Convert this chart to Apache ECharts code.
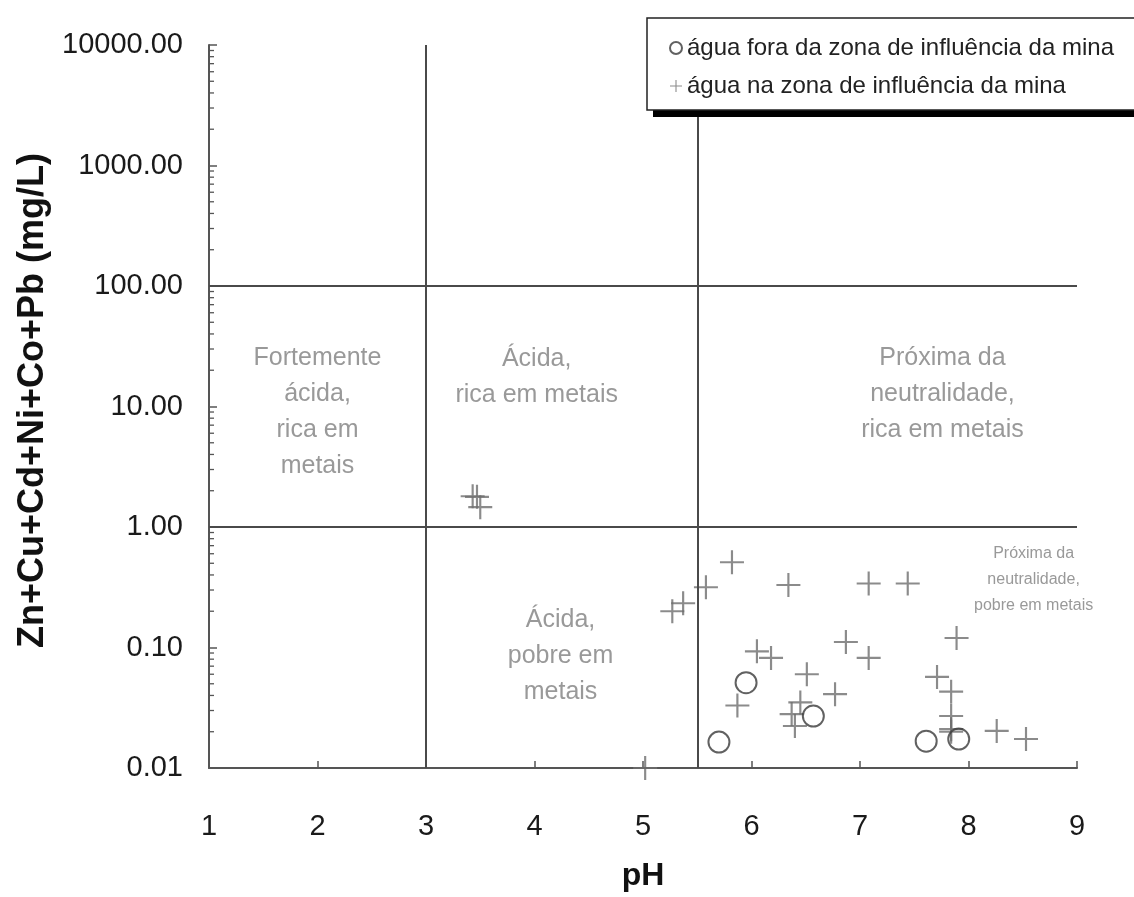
<!DOCTYPE html>
<html>
<head>
<meta charset="utf-8">
<script src="https://cdn.jsdelivr.net/npm/echarts@6/dist/echarts.min.js"></script>
<style>
  html, body { margin: 0; padding: 0; background: #fff; }
  #chart { width: 1134px; height: 897px; }
</style>
</head>
<body>
<div id="chart"></div>
<script>
// Water outside the mine's zone of influence: pH and Zn+Cu+Cd+Ni+Co+Pb (mg/L)
const phOutside = [5.95, 5.70, 6.57, 7.61, 7.91];
const metalsOutside = [0.051, 0.0164, 0.027, 0.0167, 0.0174];

// Water inside the mine's zone of influence
const phInside = [3.43, 3.47, 3.50, 5.02, 5.27, 5.37, 5.58, 5.82, 6.34, 7.08, 7.44,
                  6.05, 6.18, 5.87, 6.51, 6.77, 6.87, 7.08, 6.45, 6.37, 6.40,
                  7.89, 7.71, 7.84, 7.84, 7.84, 7.84, 8.26, 8.53];
const metalsInside = [1.80, 1.78, 1.46, 0.010, 0.20, 0.233, 0.316, 0.51, 0.33, 0.34, 0.34,
                      0.093, 0.082, 0.033, 0.060, 0.041, 0.111, 0.082, 0.035, 0.028, 0.0223,
                      0.12, 0.057, 0.043, 0.027, 0.021, 0.020, 0.0203, 0.0174];

// Field boundaries
const phBoundaries = [3, 5.5];
const metalBoundaries = [1, 100];

// Field names, anchored at (pH, mg/L)
const regionPh = [2.0, 4.02, 7.76, 4.24, 8.60];
const regionMetals = [8.9, 17.6, 12.6, 0.0848, 0.368];
const regionText = [
  'Fortemente\nácida,\nrica em\nmetais',
  'Ácida,\nrica em metais',
  'Próxima da\nneutralidade,\nrica em metais',
  'Ácida,\npobre em\nmetais',
  'Próxima da\nneutralidade,\npobre em metais'
];
const regionSmall = [false, false, false, false, true];

// Axis ranges and labels
const phMin = 1, phMax = 9;
const metalsMin = 0.01, metalsMax = 10000;
const seriesNames = ['água fora da zona de influência da mina', 'água na zona de influência da mina'];

const FONT = 'Liberation Sans, Arial, sans-serif';
const AXIS_COLOR = '#555';
const PLUS = 'path://M0,4.55H10V5.45H0Z M4.55,0H5.45V10H4.55Z';

const zip = (a, b) => a.map((v, i) => [v, b[i]]);

// log-scale minor ticks (2..9 within each decade)
const minorTicks = [];
for (let e = Math.log10(metalsMin); e < Math.log10(metalsMax); e++) {
  for (let k = 2; k <= 9; k++) minorTicks.push([phMin, k * Math.pow(10, e)]);
}

const chart = echarts.init(document.getElementById('chart'), null, { renderer: 'canvas' });

chart.setOption({
  animation: false,
  backgroundColor: '#fff',
  textStyle: { fontFamily: FONT },
  grid: { left: 209, right: 57, top: 45, bottom: 128 },
  // legend frame with a solid drop shadow
  graphic: [
    {
      type: 'rect', z: 50, silent: true,
      shape: { x: 653, y: 25, width: 490, height: 92 },
      style: { fill: '#000' }
    },
    {
      type: 'rect', z: 51, silent: true,
      shape: { x: 647, y: 18, width: 490, height: 92 },
      style: { fill: '#fff', stroke: '#222', lineWidth: 1.5 }
    }
  ],
  legend: {
    z: 60,
    orient: 'vertical',
    left: 647,
    top: 18,
    padding: [18, 10, 12, 22],
    itemGap: 14,
    itemWidth: 12,
    itemHeight: 12,
    backgroundColor: 'transparent',
    borderWidth: 0,
    textStyle: { fontSize: 24, color: '#222', fontFamily: FONT },
    data: seriesNames
  },
  xAxis: {
    type: 'value',
    min: phMin,
    max: phMax,
    interval: 1,
    name: 'pH',
    nameLocation: 'middle',
    nameGap: 92,
    nameTextStyle: { fontSize: 32, fontWeight: 'bold', color: '#111' },
    axisLine: { lineStyle: { color: AXIS_COLOR, width: 2 } },
    axisTick: { inside: true, length: 7, lineStyle: { color: AXIS_COLOR, width: 1.5 } },
    axisLabel: { margin: 44, fontSize: 29, color: '#1a1a1a' },
    splitLine: { show: false }
  },
  yAxis: {
    type: 'log',
    logBase: 10,
    min: metalsMin,
    max: metalsMax,
    interval: 1,
    name: 'Zn+Cu+Cd+Ni+Co+Pb (mg/L)',
    nameLocation: 'middle',
    nameGap: 141,
    nameTextStyle: { fontSize: 36, fontWeight: 'bold', color: '#111', padding: [0, 0, 0, 12] },
    axisLine: { lineStyle: { color: AXIS_COLOR, width: 2 } },
    axisTick: { inside: true, length: 8, lineStyle: { color: AXIS_COLOR, width: 1.5 } },
    axisLabel: { margin: 26, fontSize: 29, color: '#1a1a1a', formatter: v => Number(v).toFixed(2) },
    splitLine: { show: false }
  },
  series: [
    {
      name: seriesNames[0],
      type: 'scatter',
      symbol: 'circle',
      symbolSize: 21,
      clip: false,
      z: 4,
      itemStyle: { color: 'rgba(255,255,255,0)', borderColor: '#3a3a3a', borderWidth: 2 },
      data: zip(phOutside, metalsOutside)
    },
    {
      name: seriesNames[1],
      type: 'scatter',
      symbol: PLUS,
      symbolSize: 24,
      clip: false,
      z: 3,
      itemStyle: { color: '#6e6e6e' },
      data: zip(phInside, metalsInside),
      markLine: {
        silent: true,
        symbol: 'none',
        label: { show: false },
        lineStyle: { color: '#4a4a4a', width: 2, type: 'solid' },
        data: phBoundaries.map(v => ({ xAxis: v }))
          .concat(metalBoundaries.map(v => ({ yAxis: v })))
      }
    },
    {
      name: 'fields',
      type: 'scatter',
      symbolSize: 0,
      silent: true,
      z: 2,
      data: regionPh.map((x, i) => {
        const small = regionSmall[i];
        return {
          value: [x, regionMetals[i]],
          label: small
            ? { fontSize: 16, lineHeight: 26 }
            : { fontSize: 25, lineHeight: 36 }
        };
      }),
      label: {
        show: true,
        position: 'inside',
        align: 'center',
        verticalAlign: 'middle',
        color: '#808080',
        fontFamily: FONT,
        formatter: p => regionText[p.dataIndex]
      }
    },
    {
      name: 'minor ticks',
      type: 'custom',
      silent: true,
      clip: false,
      z: 5,
      data: minorTicks,
      renderItem: (params, api) => {
        const p = api.coord([api.value(0), api.value(1)]);
        return {
          type: 'line',
          shape: { x1: p[0], y1: p[1], x2: p[0] + 5, y2: p[1] },
          style: { stroke: AXIS_COLOR, lineWidth: 1.3 }
        };
      }
    }
  ]
});
</script>
</body>
</html>
